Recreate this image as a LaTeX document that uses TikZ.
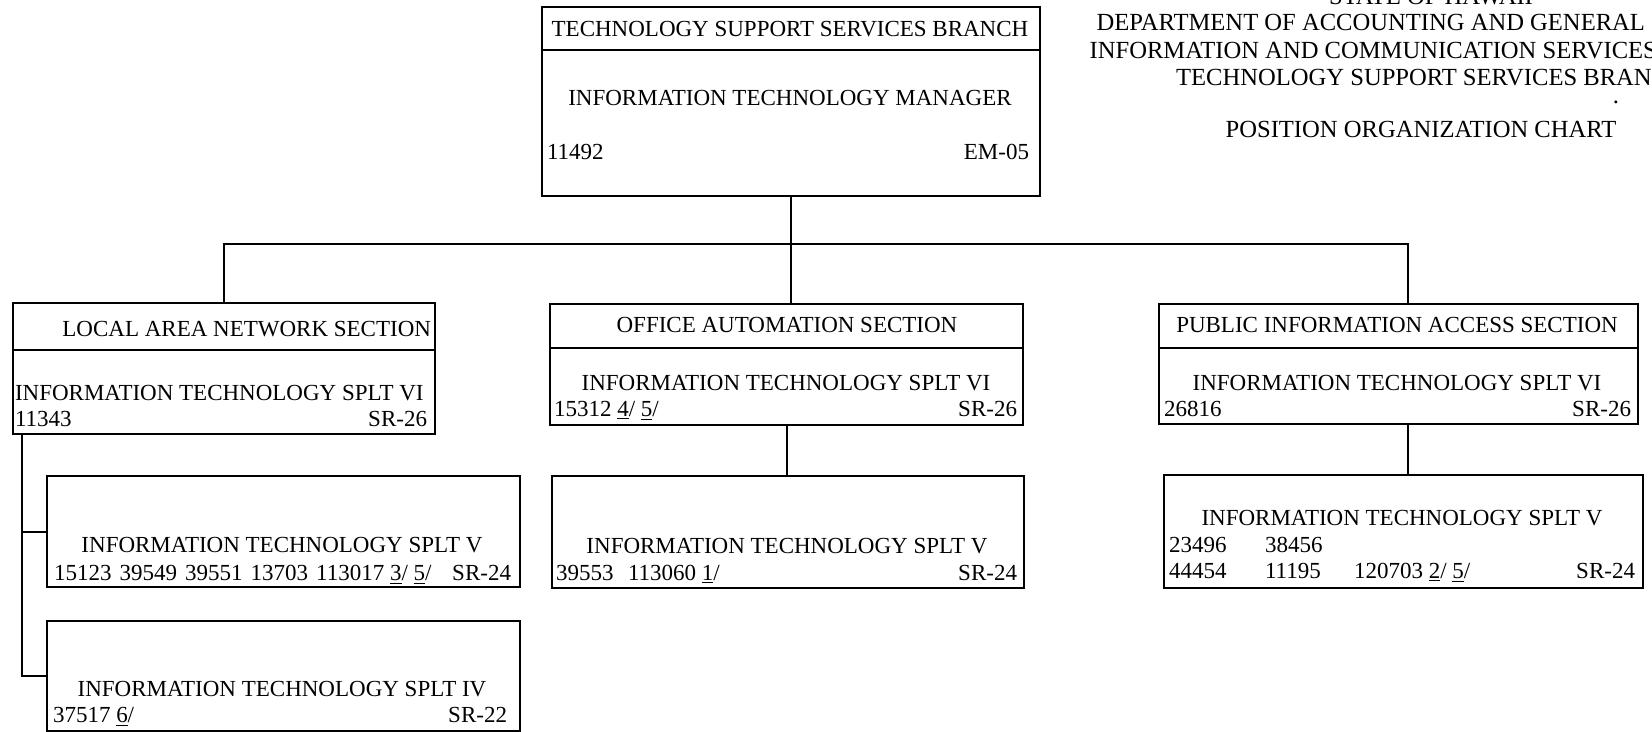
\documentclass[tikz,border=0pt]{standalone}
\usepackage{fontspec}
\setmainfont{Liberation Serif}
\begin{document}
\begin{tikzpicture}[x=0.5pt,y=-0.5pt,line width=1pt,
		box/.style={draw,anchor=north west,inner sep=0pt},
		txt/.style={inner sep=0pt,font=\fontsize{11.5}{13}\selectfont},
		title/.style={inner sep=0pt,anchor=base,font=\fontsize{12.3}{14}\selectfont}]
		\useasboundingbox (0,0) rectangle (1652,732);
		\clip (0,0) rectangle (1652,732);
		% title block
		\node[title] (state) at (1431,5) {STATE OF HAWAII};
		\node[title] (dept) at (1431,31) {DEPARTMENT OF ACCOUNTING AND GENERAL SERVICES};
		\node[title] (icsd) at (1431,59) {INFORMATION AND COMMUNICATION SERVICES DIVISION};
		\node[title] (tssd) at (1431,86) {TECHNOLOGY SUPPORT SERVICES BRANCH};
		\node[title] (dot) at (1616,104) {.};
		\node[title] (chart) at (1421,138) {POSITION ORGANIZATION CHART};
		% branch
		\node[box,minimum width=249pt,minimum height=21.5pt] (brhead) at (541,6) {};
		\node[box,minimum width=249pt,minimum height=73pt] (brbody) at (541,49) {};
		\node[txt,anchor=base] (brname) at (790,36.5) {TECHNOLOGY SUPPORT SERVICES BRANCH};
		\node[txt,anchor=base] (itm) at (790,105.5) {INFORMATION TECHNOLOGY MANAGER};
		\node[txt,anchor=base west] (itmno) at (546,159.5) {11492};
		\node[txt,anchor=base east] (itmsr) at (1030,159.5) {EM-05};
		% local area network section
		\node[box,minimum width=211pt,minimum height=23.5pt] (lanhead) at (12,302) {};
		\node[box,minimum width=211pt,minimum height=42pt] (lanbody) at (12,349) {};
		\node[txt,anchor=base east] (lanname) at (432,336) {LOCAL AREA NETWORK SECTION};
		\node[txt,anchor=base west] (lanvi) at (14,400.5) {INFORMATION TECHNOLOGY SPLT VI};
		\node[txt,anchor=base west] (lanvino) at (14,426.5) {11343};
		\node[txt,anchor=base east] (lanvisr) at (428,426.5) {SR-26};
		\node[box,minimum width=236.5pt,minimum height=55.5pt] (lanv) at (46,475) {};
		\node[txt,anchor=base] (lanvt) at (282,552.5) {INFORMATION TECHNOLOGY SPLT V};
		\node[txt,anchor=base west] (lanvno) at (53,580) {15123\hspace{.35em}39549\hspace{.35em}39551\hspace{.35em}13703\hspace{.35em}113017 \underline{3}/ \underline{5}/};
		\node[txt,anchor=base east] (lanvsr) at (512,580) {SR-24};
		\node[box,minimum width=236.5pt,minimum height=55pt] (laniv) at (46,620) {};
		\node[txt,anchor=base] (lanivt) at (282,696) {INFORMATION TECHNOLOGY SPLT IV};
		\node[txt,anchor=base west] (lanivno) at (52,722) {37517 \underline{6}/};
		\node[txt,anchor=base east] (lanivsr) at (508,722) {SR-22};
		% office automation section
		\node[box,minimum width=236.5pt,minimum height=22pt] (oahead) at (549,303) {};
		\node[box,minimum width=236.5pt,minimum height=38.5pt] (oabody) at (549,347) {};
		\node[txt,anchor=base] (oaname) at (787,332.5) {OFFICE AUTOMATION SECTION};
		\node[txt,anchor=base] (oavi) at (786,390) {INFORMATION TECHNOLOGY SPLT VI};
		\node[txt,anchor=base west] (oavino) at (553,416) {15312 \underline{4}/ \underline{5}/};
		\node[txt,anchor=base east] (oavisr) at (1018,416) {SR-26};
		\node[box,minimum width=236pt,minimum height=56pt] (oav) at (551,475) {};
		\node[txt,anchor=base] (oavt) at (787,553) {INFORMATION TECHNOLOGY SPLT V};
		\node[txt,anchor=base west] (oavno) at (555,580) {39553\hspace{.63em}113060 \underline{1}/};
		\node[txt,anchor=base east] (oavsr) at (1018,580) {SR-24};
		% public information access section
		\node[box,minimum width=239.5pt,minimum height=22pt] (pihead) at (1158,303) {};
		\node[box,minimum width=239.5pt,minimum height=38pt] (pibody) at (1158,347) {};
		\node[txt,anchor=base] (piname) at (1397,332.5) {PUBLIC INFORMATION ACCESS SECTION};
		\node[txt,anchor=base] (pivi) at (1397,390) {INFORMATION TECHNOLOGY SPLT VI};
		\node[txt,anchor=base west] (pivino) at (1163,416) {26816};
		\node[txt,anchor=base east] (pivisr) at (1632,416) {SR-26};
		\node[box,minimum width=239.5pt,minimum height=56.5pt] (piv) at (1163,474) {};
		\node[txt,anchor=base] (pivt) at (1402,525.5) {INFORMATION TECHNOLOGY SPLT V};
		\node[txt,anchor=base west] (pivnoa) at (1168,552) {\makebox[48pt][l]{23496}38456};
		\node[txt,anchor=base west] (pivnob) at (1168,578) {\makebox[48pt][l]{44454}\makebox[44.5pt][l]{11195}120703 \underline{2}/ \underline{5}/};
		\node[txt,anchor=base east] (pivsr) at (1636,578) {SR-24};
		% connectors
		\coordinate (bus) at (0,244);
		\coordinate (pitap) at ([xshift=4.5pt]pihead.north);
		\draw (brbody.south) -- (brbody.south |- oahead.north);
		\draw (lanhead.north) -- (lanhead.north |- bus) -- (pitap |- bus) -- (pitap);
		\draw (oabody.south) -- (oabody.south |- oav.north);
		\draw (pitap |- pibody.south) -- (pitap |- piv.north);
		\draw ([xshift=5pt]lanbody.south west) |- (lanv.west);
		\draw ([xshift=5pt]lanbody.south west) |- (laniv.west);
	\end{tikzpicture}
\end{document}
